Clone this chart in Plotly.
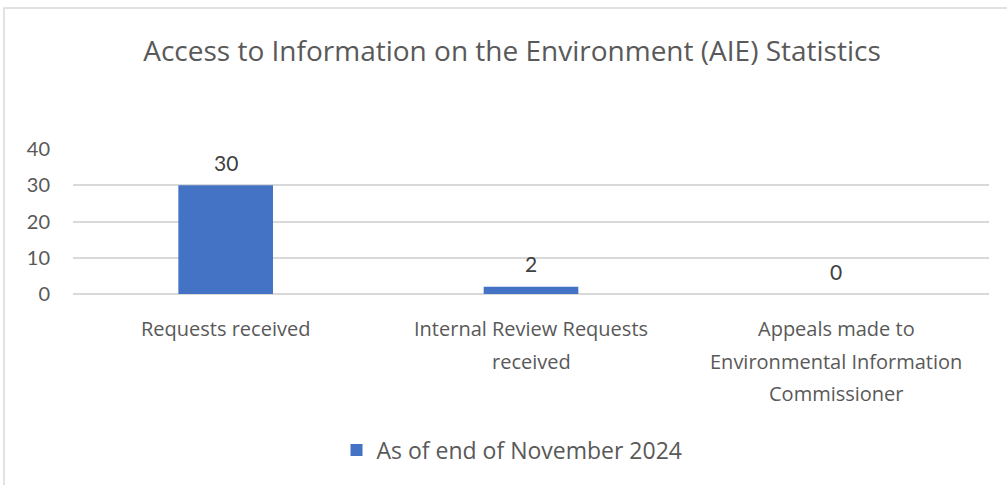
import plotly.graph_objects as go

categories = ["Requests received", "Internal Review Requests<br>received",
              "Appeals made to<br>Environmental Information<br>Commissioner"]
values = [30, 2, 0]
series_name = "As of end of November 2024"
y_ticks = [0, 10, 20, 30, 40]

W, H = 1007, 485
ml, mr, mt, mb = 73, 18, 149, 191
pw, ph = W - ml - mr, H - mt - mb

fig = go.Figure()
fig.add_trace(go.Bar(
    x=categories, y=values, name=series_name,
    marker=dict(color="#4472C4", line=dict(width=0)),
    cliponaxis=False,
))

def px2x(px):
    return (px - ml) / pw

def py2y(py):
    return (H - mb - py) / ph

annotations = []
# data labels above bars
for cat, v in zip(categories, values):
    annotations.append(dict(
        x=cat, xref="x", y=v, yref="y", text=str(v), showarrow=False,
        xanchor="center", yanchor="middle", yshift=23,
        font=dict(family="Lato", size=21, color="#404040")))

# category labels, one annotation per line for Excel-like line spacing
line_y = [328, 361, 393]
for cat in categories:
    for i, line in enumerate(cat.split("<br>")):
        annotations.append(dict(
            x=cat, xref="x", y=py2y(line_y[i]), yref="paper",
            text=line, showarrow=False, xanchor="center", yanchor="middle",
            font=dict(family="Open Sans", size=20, color="#595959")))

fig.update_layout(
    width=W, height=H,
    margin=dict(l=ml, r=mr, t=mt, b=mb),
    paper_bgcolor="white", plot_bgcolor="white",
    title=dict(text="Access to Information on the Environment (AIE) Statistics",
               x=px2x(512), xref="paper", xanchor="center", y=1 - 51 / H, yanchor="middle",
               font=dict(family="Open Sans", size=28, color="#595959")),
    bargap=0.69,
    showlegend=True,
    legend=dict(orientation="h", x=px2x(512), xanchor="center", y=py2y(450), yanchor="middle",
                font=dict(family="Open Sans", size=23, color="#595959"),
                itemwidth=30),
    xaxis=dict(showgrid=False, showline=False, ticks="", showticklabels=False),
    yaxis=dict(range=[0, 40], tickvals=y_ticks, showgrid=True, gridcolor="#D9D9D9",
               gridwidth=1.5, zeroline=True, zerolinecolor="#D9D9D9", zerolinewidth=1.5,
               showline=False, ticks="", ticklabelstandoff=22,
               tickfont=dict(family="Lato", size=20, color="#595959")),
    annotations=annotations,
    shapes=[dict(type="rect", xref="paper", yref="paper",
                 x0=px2x(4), x1=px2x(1012), y0=py2y(490), y1=py2y(8),
                 line=dict(color="#D9D9D9", width=1.5), fillcolor="rgba(0,0,0,0)",
                 layer="below")],
)

fig.write_html("out.html", config={"displayModeBar": False},
               post_script="document.body.style.margin='0';")
